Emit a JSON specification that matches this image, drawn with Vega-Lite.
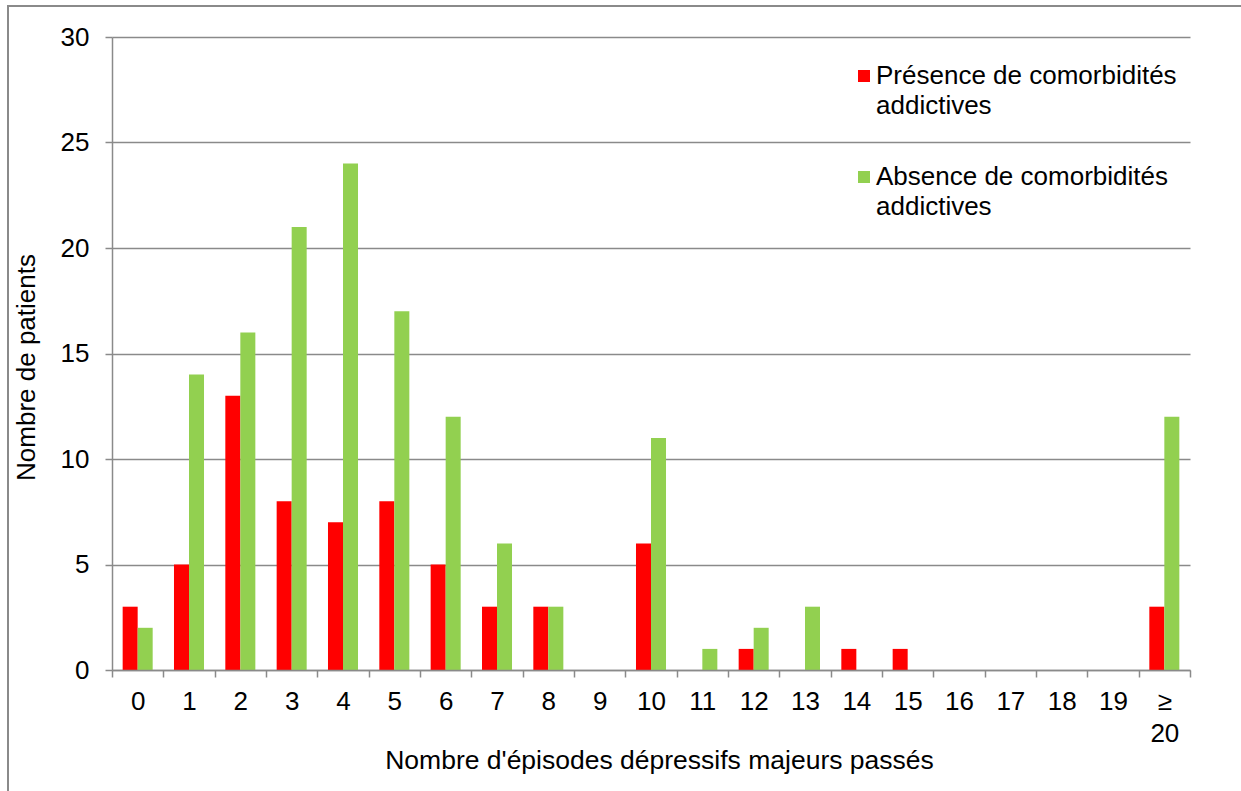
{
  "$schema": "https://vega.github.io/schema/vega-lite/v6.json",
  "autosize": {"type": "none"},
  "width": 1234,
  "height": 786,
  "padding": {"left": 8, "top": 6, "right": 0, "bottom": 0},
  "background": "white",
  "config": {
    "view": {"stroke": "#8a8a8a", "strokeWidth": 2},
    "font": "Liberation Sans",
    "style": {"guide-label": {"lineHeight": 30}}
  },
  "data": {
    "values": [
      {"n": "0", "g": "Présence de comorbidités addictives", "v": 3},
      {"n": "0", "g": "Absence de comorbidités addictives", "v": 2},
      {"n": "1", "g": "Présence de comorbidités addictives", "v": 5},
      {"n": "1", "g": "Absence de comorbidités addictives", "v": 14},
      {"n": "2", "g": "Présence de comorbidités addictives", "v": 13},
      {"n": "2", "g": "Absence de comorbidités addictives", "v": 16},
      {"n": "3", "g": "Présence de comorbidités addictives", "v": 8},
      {"n": "3", "g": "Absence de comorbidités addictives", "v": 21},
      {"n": "4", "g": "Présence de comorbidités addictives", "v": 7},
      {"n": "4", "g": "Absence de comorbidités addictives", "v": 24},
      {"n": "5", "g": "Présence de comorbidités addictives", "v": 8},
      {"n": "5", "g": "Absence de comorbidités addictives", "v": 17},
      {"n": "6", "g": "Présence de comorbidités addictives", "v": 5},
      {"n": "6", "g": "Absence de comorbidités addictives", "v": 12},
      {"n": "7", "g": "Présence de comorbidités addictives", "v": 3},
      {"n": "7", "g": "Absence de comorbidités addictives", "v": 6},
      {"n": "8", "g": "Présence de comorbidités addictives", "v": 3},
      {"n": "8", "g": "Absence de comorbidités addictives", "v": 3},
      {"n": "9", "g": "Présence de comorbidités addictives", "v": 0},
      {"n": "9", "g": "Absence de comorbidités addictives", "v": 0},
      {"n": "10", "g": "Présence de comorbidités addictives", "v": 6},
      {"n": "10", "g": "Absence de comorbidités addictives", "v": 11},
      {"n": "11", "g": "Présence de comorbidités addictives", "v": 0},
      {"n": "11", "g": "Absence de comorbidités addictives", "v": 1},
      {"n": "12", "g": "Présence de comorbidités addictives", "v": 1},
      {"n": "12", "g": "Absence de comorbidités addictives", "v": 2},
      {"n": "13", "g": "Présence de comorbidités addictives", "v": 0},
      {"n": "13", "g": "Absence de comorbidités addictives", "v": 3},
      {"n": "14", "g": "Présence de comorbidités addictives", "v": 1},
      {"n": "14", "g": "Absence de comorbidités addictives", "v": 0},
      {"n": "15", "g": "Présence de comorbidités addictives", "v": 1},
      {"n": "15", "g": "Absence de comorbidités addictives", "v": 0},
      {"n": "16", "g": "Présence de comorbidités addictives", "v": 0},
      {"n": "16", "g": "Absence de comorbidités addictives", "v": 0},
      {"n": "17", "g": "Présence de comorbidités addictives", "v": 0},
      {"n": "17", "g": "Absence de comorbidités addictives", "v": 0},
      {"n": "18", "g": "Présence de comorbidités addictives", "v": 0},
      {"n": "18", "g": "Absence de comorbidités addictives", "v": 0},
      {"n": "19", "g": "Présence de comorbidités addictives", "v": 0},
      {"n": "19", "g": "Absence de comorbidités addictives", "v": 0},
      {"n": "≥ 20", "g": "Présence de comorbidités addictives", "v": 3},
      {"n": "≥ 20", "g": "Absence de comorbidités addictives", "v": 12}
    ]
  },
  "mark": {"type": "rect"},
  "encoding": {
    "x": {
      "field": "n",
      "type": "ordinal",
      "sort": null,
      "scale": {"type": "band", "range": [104, 1182], "paddingInner": 0, "paddingOuter": 0},
      "axis": {
        "title": "Nombre d'épisodes dépressifs majeurs passés",
        "titleFontSize": 26.5,
        "titleFontWeight": "normal",
        "titleColor": "#000000",
        "titleX": 651,
        "titleY": 90,
        "titleBaseline": "middle",
        "titleAlign": "center",
        "offset": -122,
        "labelAngle": 0,
        "labelFontSize": 26,
        "labelColor": "#000000",
        "labelPadding": 11,
        "labelLineHeight": 32,
        "labelExpr": "datum.value == '≥ 20' ? ['≥', '20'] : datum.label",
        "tickBand": "extent",
        "tickSize": 7,
        "tickColor": "#8a8a8a",
        "tickWidth": 1.5,
        "domainColor": "#8a8a8a",
        "domainWidth": 1.5,
        "grid": false
      }
    },
    "xOffset": {
      "field": "g",
      "type": "nominal",
      "sort": ["Présence de comorbidités addictives", "Absence de comorbidités addictives"],
      "scale": {"type": "band", "paddingInner": 0, "paddingOuter": 0.71}
    },
    "y": {
      "field": "v",
      "type": "quantitative",
      "scale": {"domain": [0, 30], "range": [664, 31], "nice": false, "zero": true},
      "axis": {
        "title": "Nombre de patients",
        "titleFontSize": 26,
        "titleFontWeight": "normal",
        "titleColor": "#000000",
        "titleAngle": -90,
        "titleX": -86,
        "titleY": 361,
        "titleBaseline": "middle",
        "titleAlign": "center",
        "offset": -104,
        "values": [0, 5, 10, 15, 20, 25, 30],
        "labelFontSize": 26,
        "labelColor": "#000000",
        "labelPadding": 16,
        "tickSize": 7,
        "tickColor": "#8a8a8a",
        "tickWidth": 1.5,
        "domainColor": "#8a8a8a",
        "domainWidth": 1.5,
        "grid": true,
        "gridColor": "#8a8a8a",
        "gridWidth": 1.5,
        "gridOpacity": 1
      }
    },
    "color": {
      "field": "g",
      "type": "nominal",
      "scale": {
        "domain": ["Présence de comorbidités addictives", "Absence de comorbidités addictives"],
        "range": ["#ff0000", "#92d050"]
      },
      "legend": {
        "title": null,
        "orient": "none",
        "legendX": 843,
        "legendY": 57,
        "padding": 0,
        "symbolType": "square",
        "symbolSize": 144,
        "symbolStrokeWidth": 0,
        "labelFontSize": 26,
        "labelColor": "#000000",
        "labelOffset": -1,
        "labelLimit": 400,
        "labelBaseline": "middle",
        "labelExpr": "[replace(datum.label, ' addictives', ''), 'addictives']",
        "rowPadding": 45
      }
    }
  }
}
